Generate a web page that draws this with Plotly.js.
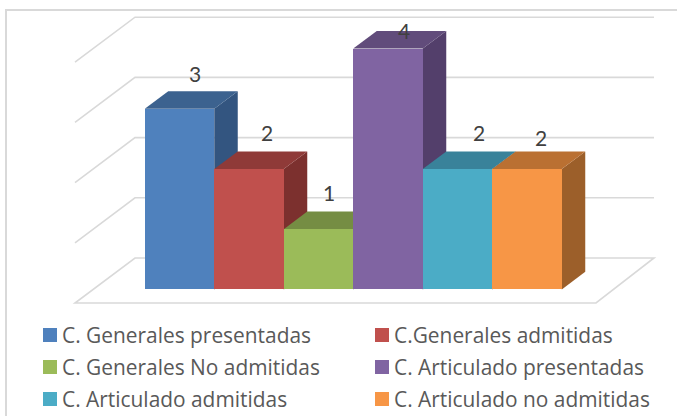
<!DOCTYPE html>
<html><head><meta charset="utf-8">
<script src="https://cdn.plot.ly/plotly-3.0.1.min.js"></script>
<style>html,body{margin:0;padding:0;background:#fff}#c{width:677px;height:416px}</style>
</head><body><div id="c"></div>
<script>
const categories = ["C. Generales presentadas","C.Generales admitidas","C. Generales No admitidas","C. Articulado presentadas","C. Articulado admitidas","C. Articulado no admitidas"];
const values = [3,2,1,4,2,2];
const frontColors = ["#4f81bd","#c0504d","#9bbb59","#8064a2","#4bacc6","#f79646"];
const topColors = ["#3c628f","#8f3a38","#758d43","#614c7b","#39829a","#ba7032"];
const sideColors = ["#335580","#7c302e","#657a39","#533f6b","#317187","#9c5f2a"];
const gridValues = [0,1,2,3,4];

const W=677,H=416;
const UX=69.5, UY=60.2, X0=179.5, Y0=289.4;     // pixels per unit, origin
const toX=p=>(p-X0)/UX, toY=p=>(Y0-p)/UY;
const DX=23.5/UX, DY=17.6/UY;                    // bar depth
const half=0.5;
const wallBackL=toX(135), wallBackR=toX(654), wallFrontL=toX(75), wallFrontR=toX(596);
const floorBack=toY(258), floorFront=toY(303);
const GRID="#d9d9d9";

const px=x=>x/W, py=y=>1-y/H;
const shapes=[];
// frame
shapes.push({type:"path",xref:"paper",yref:"paper",layer:"below",
  path:`M ${px(6)} ${py(416)} L ${px(6)} ${py(10)} L ${px(677)} ${py(10)}`,line:{color:GRID,width:2}});
// floor and walls
shapes.push({type:"path",layer:"below",fillcolor:"#ffffff",
  path:`M ${wallFrontL} ${floorFront} L ${wallFrontR} ${floorFront} L ${wallBackR} ${floorBack} L ${wallBackL} ${floorBack} Z`,
  line:{color:GRID,width:1.6}});
gridValues.slice(1).forEach(v=>{
  shapes.push({type:"path",layer:"below",
    path:`M ${wallFrontL} ${floorFront+v} L ${wallBackL} ${floorBack+v} L ${wallBackR} ${floorBack+v}`,
    line:{color:GRID,width:1.6}});
});
// 3D faces, drawn left to right so that each bar's top covers its neighbour's side
values.forEach((v,i)=>{
  const l=i-half,r=i+half;
  shapes.push({type:"path",layer:"below",fillcolor:sideColors[i],line:{width:0},
    path:`M ${r} 0 L ${r+DX} ${DY} L ${r+DX} ${v+DY} L ${r} ${v} Z`});
  shapes.push({type:"path",layer:"below",fillcolor:topColors[i],line:{width:0},
    path:`M ${l} ${v} L ${r} ${v} L ${r+DX} ${v+DY} L ${l+DX} ${v+DY} Z`});
});

const annotations=[];
const labelDX=[15,18,10,16,21,14], labelDY=[35,37,37,18,37,32];
values.forEach((v,i)=>annotations.push({x:i,y:v,xref:"x",yref:"y",text:String(v),showarrow:false,
  xshift:labelDX[i],yshift:labelDY[i],xanchor:"center",yanchor:"middle",
  font:{family:"Lato, sans-serif",size:21,color:"#404040"}}));

// legend
const legX=[43,43,43,375,375,375];
const legOrder=[0,2,4,1,3,5];
const legY=[335,367,399];
legOrder.forEach((c,k)=>{
  const x=legX[k], y=legY[k%3];
  shapes.push({type:"rect",xref:"paper",yref:"paper",layer:"above",
    x0:px(x),x1:px(x+14),y0:py(y-7),y1:py(y+7),fillcolor:frontColors[c],line:{width:0}});
  annotations.push({xref:"paper",yref:"paper",x:px(x+17),y:py(y),xanchor:"left",yanchor:"middle",
    showarrow:false,text:categories[c],font:{family:"Open Sans, sans-serif",size:20.9,color:"#595959"}});
});

const trace={type:"bar",x:values.map((_,i)=>i),y:values,text:categories,textposition:"none",
  width:1,marker:{color:frontColors,line:{width:0}},hoverinfo:"text+y",showlegend:false};

Plotly.newPlot("c",[trace],{
  width:W,height:H,margin:{l:0,r:0,t:0,b:0},paper_bgcolor:"#fff",plot_bgcolor:"rgba(0,0,0,0)",
  showlegend:false,bargap:0,
  xaxis:{type:"linear",range:[toX(0),toX(W)],visible:false,fixedrange:true},
  yaxis:{type:"linear",range:[toY(H),toY(0)],visible:false,fixedrange:true},
  shapes,annotations
},{displayModeBar:false,staticPlot:true});
</script></body></html>
